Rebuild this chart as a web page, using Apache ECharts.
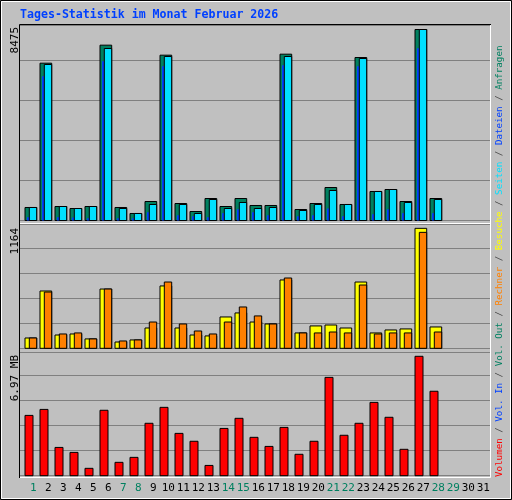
<!DOCTYPE html>
<html><head><meta charset="utf-8">
<script src="https://cdn.jsdelivr.net/npm/echarts@6/dist/echarts.min.js"></script>
<style>html,body{margin:0;padding:0;background:#c0c0c0}#c{width:512px;height:500px}</style>
</head><body><div id="c"></div>
<script>
const days = Array.from({length:31},(_,i)=>String(i+1));
const weekend = [1,7,8,14,15,21,22,28,29];
const anfragen = [577,6981,621,532,621,7780,577,311,843,7336,754,399,976,621,976,666,666,7380,488,754,1464,710,7232,1287,1375,843,8475,976];
const seiten   = [577,6922,621,532,621,7632,532,311,710,7277,710,311,932,532,799,532,577,7277,444,710,1331,710,7188,1287,1375,799,8475,932];
const dateien  = [148,6404,148,133,104,7070,104,104,370,6848,237,192,148,325,503,370,237,6892,192,237,532,192,6848,281,503,325,7646,325];
const besuche  = [100,556,129,139,91,575,61,81,197,605,197,129,120,304,343,255,236,663,149,217,226,197,643,149,178,188,1164,207];
const rechner  = [100,546,139,149,91,575,71,81,255,643,236,168,139,255,401,314,236,682,149,149,158,149,614,139,149,149,1125,158];
const volumen  = [3.52,3.87,1.65,1.36,0.43,3.82,0.78,1.07,3.06,3.99,2.47,2.01,0.60,2.76,3.35,2.24,1.71,2.82,1.25,2.01,5.74,2.36,3.06,4.28,3.41,1.54,6.97,4.93];
const yLabels = ['8475','1164','6.97 MB'];

const chart = echarts.init(document.getElementById('c'));
const C = {g:'#008060',c:'#00e0ff',b:'#0040ff',y:'#ffff00',o:'#ff8000',r:'#ff0000'};
function rect(api,i,v,a,b,color,stroke){
  const p0=api.coord([i,0]), p1=api.coord([i,v]), u=api.size([1,0])[0]/15;
  return {type:'rect',shape:{x:p0[0]+a*u,y:p1[1],width:(b-a)*u,height:p0[1]-p1[1]},
    style:{fill:color,stroke:stroke===false?null:'#000',lineWidth:1}};
}
const xa = (gi,show)=>({type:'value',gridIndex:gi,min:-1/3,max:31,
  axisLine:{show:false},axisTick:{show:false},splitLine:{show:false},
  axisLabel:{show:show,customValues:days.map((d,i)=>i+0.55),margin:7,
    fontFamily:'DejaVu Sans Mono',fontSize:11,
    formatter:v=>{const d=Math.round(v-0.55)+1;return weekend.includes(d)?'{w|'+d+'}':'{n|'+d+'}';},
    rich:{w:{color:'#008060',fontFamily:'DejaVu Sans Mono',fontSize:11},n:{color:'#000',fontFamily:'DejaVu Sans Mono',fontSize:11}}}});
const ya = (gi,max,interval)=>({type:'value',gridIndex:gi,min:0,max:max,interval:interval,
  axisLine:{show:false},axisTick:{show:false},axisLabel:{show:false},
  splitLine:{show:true,lineStyle:{color:'#808080',width:1}}});
const idx = anfragen.map((_,i)=>i);
const leg = [['Volumen','#ff0000'],['Vol. In','#0040ff'],['Vol. Out','#008060'],['Rechner','#ff8000'],['Besuche','#ffff00'],['Seiten','#00e0ff'],['Dateien','#0040ff'],['Anfragen','#008060']];
const legText = leg.map((l,k)=>'{s'+k+'|'+l[0]+'}').join('{sl| / }');
const legRich = {sl:{fill:'#404040',fontFamily:'DejaVu Sans Mono',fontSize:9.2}};
leg.forEach((l,k)=>legRich['s'+k]={fill:l[1],fontFamily:'DejaVu Sans Mono',fontSize:9.2});

chart.setOption({
  backgroundColor:'#c0c0c0',animation:false,
  grid:[{left:20,width:470,top:25,height:195.5},{left:20,width:470,top:224,height:124.3},{left:20,width:470,top:352.3,height:123.4}],
  xAxis:[xa(0,false),xa(1,false),xa(2,true)],
  yAxis:[ya(0,8675,1775),ya(1,1206,242.5),ya(2,7.204,1.46)],
  series:[
    {type:'custom',xAxisIndex:0,yAxisIndex:0,data:idx.map(i=>[i,anfragen[i],seiten[i],dateien[i]]),
     renderItem:(p,api)=>{const i=api.value(0);return {type:'group',children:[
       rect(api,i,api.value(1),0,11.7,C.g),rect(api,i,api.value(3),2,4,C.b,false),rect(api,i,api.value(2),4.3,11.7,C.c)]};}},
    {type:'custom',xAxisIndex:1,yAxisIndex:1,data:idx.map(i=>[i,besuche[i],rechner[i]]),
     renderItem:(p,api)=>{const i=api.value(0);return {type:'group',children:[
       rect(api,i,api.value(1),0,11.7,C.y),rect(api,i,api.value(2),4.3,11.7,C.o)]};}},
    {type:'custom',xAxisIndex:2,yAxisIndex:2,data:idx.map(i=>[i,volumen[i]]),
     renderItem:(p,api)=>rect(api,api.value(0),api.value(1),0,8,C.r)}
  ],
  graphic:[
    {type:'rect',shape:{x:0.5,y:0.5,width:511,height:499},style:{fill:null,stroke:'#000',lineWidth:1},silent:true},
    {type:'rect',shape:{x:1.5,y:1.5,width:509,height:497},style:{fill:null,stroke:'#ffffff',lineWidth:1},silent:true},
    {type:'text',left:20,top:9,style:{text:'Tages-Statistik im Monat Februar 2026',fill:'#0040ff',font:'bold 11.6px "DejaVu Sans Mono"'}},
    {type:'polyline',shape:{points:[[19.5,478],[19.5,24.5],[491,24.5]]},style:{stroke:'#000',lineWidth:1}},
    {type:'polyline',shape:{points:[[20,25.5],[490.5,25.5],[490.5,477.5],[20,477.5]]},style:{stroke:'#fff',lineWidth:1}},
    {type:'line',shape:{x1:20,y1:223.5,x2:491,y2:223.5},style:{stroke:'#fff',lineWidth:1}},
    {type:'line',shape:{x1:20,y1:352.5,x2:491,y2:352.5},style:{stroke:'#fff',lineWidth:1}},
    {type:'text',x:15,y:27,rotation:Math.PI/2,style:{text:yLabels[0],fill:'#000',font:'11px "DejaVu Sans Mono"',align:'right',verticalAlign:'middle'}},
    {type:'text',x:15,y:228,rotation:Math.PI/2,style:{text:yLabels[1],fill:'#000',font:'11px "DejaVu Sans Mono"',align:'right',verticalAlign:'middle'}},
    {type:'text',x:15,y:355,rotation:Math.PI/2,style:{text:yLabels[2],fill:'#000',font:'11px "DejaVu Sans Mono"',align:'right',verticalAlign:'middle'}},
    {type:'text',x:500,y:477,rotation:Math.PI/2,style:{text:legText,rich:legRich,align:'left',verticalAlign:'middle'}}
  ]
});
</script></body></html>
